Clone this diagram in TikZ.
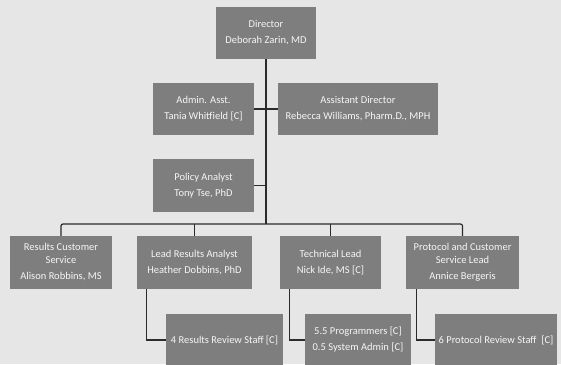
\documentclass[tikz,border=0pt]{standalone}
\usepackage{fontspec}
\setmainfont{Carlito}
\definecolor{bg}{HTML}{E6E6E6}
\definecolor{boxc}{HTML}{7E7E7E}
\definecolor{linec}{HTML}{2B2B2B}
\definecolor{txt}{HTML}{F6F6F6}
\begin{document}
\begin{tikzpicture}[x=1pt,y=-1pt,
  orgbox/.style={draw=none, fill=boxc, text=txt, font=\fontsize{10.5}{13}\selectfont,
    align=center, inner sep=2pt, minimum height=52pt},
  conn/.style={draw=linec, line width=1.2pt}]
\fill[bg] (0,0) rectangle (561,364);
\useasboundingbox (0,0) rectangle (561,364);
\clip (0,0) rectangle (561,364);

\node[orgbox, minimum width=100pt] (dir) at (266,32.5) {Director\\[3pt]Deborah Zarin, MD};
\node[orgbox, minimum width=101pt] (adm) at (203.5,109) {Admin. Asst.\\[3pt]Tania Whitfield [C]};
\node[orgbox, minimum width=160pt] (asst) at (358,109) {Assistant Director\\[3pt]Rebecca Williams, Pharm.D., MPH};
\node[orgbox, minimum width=101pt, minimum height=53pt] (pol) at (203.5,185.5) {Policy Analyst\\[3pt]Tony Tse, PhD};

\node[orgbox, minimum width=102pt, minimum height=53pt] (rcs) at (61,262.5) {Results Customer\\Service\\[3pt]Alison Robbins, MS};
\node[orgbox, minimum width=115pt, minimum height=53pt] (lra) at (194.5,262.5) {Lead Results Analyst\\[3pt]Heather Dobbins, PhD};
\node[orgbox, minimum width=101pt, minimum height=53pt] (tech) at (330.5,262.5) {Technical Lead\\[3pt]Nick Ide, MS [C]};
\node[orgbox, minimum width=113pt, minimum height=53pt] (prot) at (462.5,262.5) {Protocol and Customer\\Service Lead\\[3pt]Annice Bergeris};

\node[orgbox, minimum width=117pt] (rrs) at (224.5,340) {4 Results Review Staff [C]};
\node[orgbox, minimum width=106pt] (prog) at (358,340) {5.5 Programmers [C]\\[3pt]0.5 System Admin [C]};
\node[orgbox, minimum width=122pt] (prs) at (496,340) {6 Protocol Review Staff \ [C]};

\coordinate (bus) at (266,224);

\draw[conn] (dir.south) -- (bus);
\draw[conn] (adm.east) -- (asst.west);
\draw[conn] (pol.east) -- (pol.east -| bus);
\draw[conn, rounded corners=2pt] (rcs.north) |- (bus) -| (prot.north);
\draw[conn] (lra.north) -- (lra.north |- bus);
\draw[conn] (tech.north) -- (tech.north |- bus);

\draw[conn] ([xshift=10pt]lra.south west) |- (rrs.west);
\draw[conn] ([xshift=10pt]tech.south west) |- (prog.west);
\draw[conn] ([xshift=11pt]prot.south west) |- (prs.west);
\end{tikzpicture}
\end{document}
